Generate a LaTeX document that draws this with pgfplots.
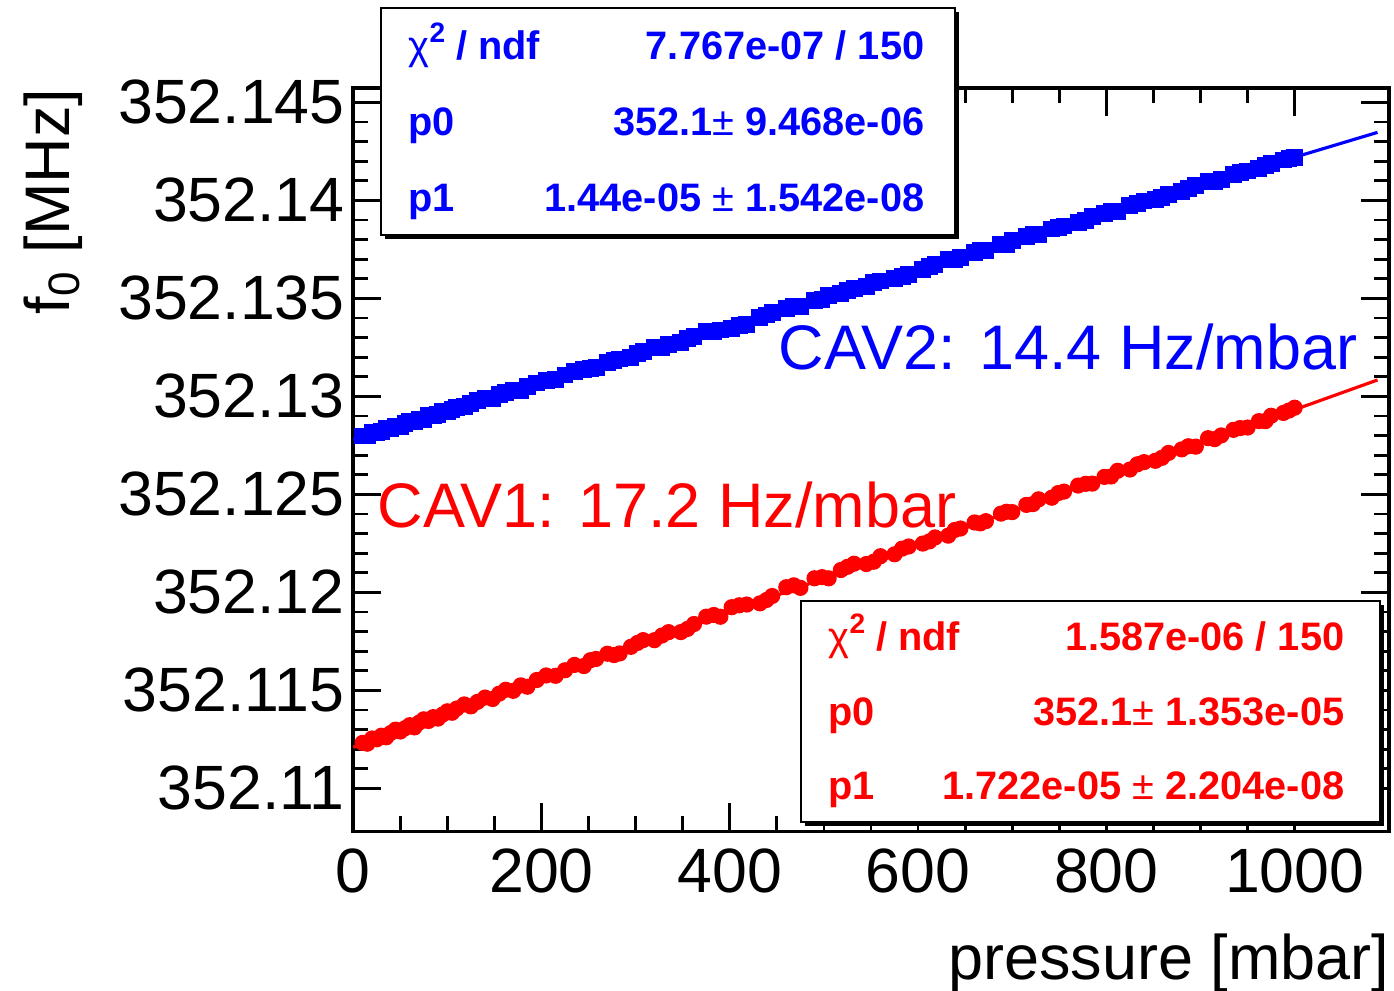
\documentclass[border=0pt]{standalone}
\usepackage{pgfplots}
\pgfplotsset{compat=1.18}
\usepackage{pgfplotstable}
\usepackage{fontspec}
\setmainfont{Liberation Sans}

% resonance frequency f0 minus 352.1 MHz, in kHz (TeX cannot resolve 352.1xxxx directly)
% p = pressure [mbar], cav2 = blue series, cav1 = red series
\pgfplotstableread{
p     cav2    cav1
10    27.974  12.322
15    27.976  12.278
20    28.138  12.544
25    28.170  12.501
30    28.202  12.687
35    28.364  12.603
40    28.356  12.829
45    28.488  12.995
50    28.470  12.901
55    28.612  13.067
60    28.734  13.223
65    28.726  13.109
70    28.838  13.355
75    28.820  13.522
80    29.002  13.438
85    29.024  13.634
90    29.056  13.560
95    29.248  13.766
100   29.220  13.932
105   29.342  13.858
110   29.434  14.074
118   29.469  14.282
125   29.640  14.183
132   29.791  14.413
140   29.876  14.631
148   29.911  14.559
155   30.082  14.829
162   30.213  15.030
170   30.278  14.977
178   30.313  15.255
185   30.484  15.186
195   30.678  15.528
205   30.792  15.760
215   30.866  15.742
225   31.090  16.025
235   31.274  16.297
245   31.348  16.239
252   31.399  16.539
258   31.475  16.603
270   31.748  16.869
277   31.839  16.800
283   31.905  16.883
295   31.998  17.220
302   32.169  17.420
308   32.275  17.564
320   32.488  17.560
328   32.483  17.798
335   32.644  17.969
348   32.751  17.973
355   32.972  18.133
362   33.063  18.384
375   33.300  18.758
383   33.295  18.845
390   33.386  18.756
402   33.469  19.242
410   33.604  19.340
418   33.669  19.378
432   34.001  19.439
439   34.152  19.610
445   34.288  19.813
460   34.464  20.261
468   34.589  20.359
475   34.580  20.230
490   34.886  20.718
498   34.931  20.776
505   35.142  20.716
518   35.239  21.140
525   35.380  21.301
532   35.511  21.461
545   35.608  21.445
553   35.823  21.563
560   35.884  21.843
575   36.000  21.942
583   36.125  22.229
590   36.196  22.340
605   36.482  22.488
612   36.643  22.599
618   36.739  22.802
632   36.961  22.893
639   36.982  23.184
645   37.068  23.257
660   37.334  23.565
666   37.440  23.519
672   37.427  23.632
688   37.727  24.017
694   37.764  24.111
700   37.950  24.094
715   38.136  24.462
722   38.237  24.503
728   38.253  24.746
742   38.535  24.827
749   38.606  25.068
755   38.694  25.141
770   38.848  25.449
778   38.953  25.537
785   39.164  25.548
798   39.321  25.892
805   39.422  25.912
812   39.443  26.203
825   39.720  26.267
833   39.855  26.534
840   39.966  26.645
852   40.049  26.711
859   40.150  26.862
866   40.300  27.113
880   40.432  27.294
887   40.613  27.454
895   40.738  27.432
908   40.955  27.866
915   40.946  27.816
922   41.047  28.007
935   41.304  28.291
942   41.415  28.381
950   41.500  28.409
962   41.603  28.736
969   41.774  28.736
975   41.900  29.010
988   42.057  29.153
994   42.154  29.277
1000  42.180  29.420
}\freq

\begin{document}
\begin{tikzpicture}
\begin{axis}[
    scale only axis,
    width=10.35cm, height=7.43cm,
    xmin=0, xmax=1100,
    ymin=7.8, ymax=45.73,
    axis line style={line width=1.1pt},
    tick align=inside,
    tick pos=both,
    xtick={0,200,400,600,800,1000},
    xticklabels={0,200,400,600,800,1000},
    minor x tick num=3,
    ytick={10,15,20,25,30,35,40,45},
    yticklabels={352.11,352.115,352.12,352.125,352.13,352.135,352.14,352.145},
    minor y tick num=4,
    major tick length=0.28cm,
    minor tick length=0.15cm,
    every tick/.style={black, line width=0.8pt},
    tick label style={font=\fontsize{17.8}{20}\selectfont},
    xticklabel style={inner sep=0pt, anchor=north, yshift=-0.17cm},
    yticklabel style={inner sep=0pt, anchor=east, xshift=-0.08cm},
]
\addplot[only marks, mark=square*, mark size=2.2pt, blue, mark options={draw=blue, fill=blue}]
    table[x=p, y=cav2] {\freq};
\addplot[only marks, mark=*, mark size=2.1pt, red, mark options={draw=red, fill=red}]
    table[x=p, y=cav1] {\freq};
% linear fits
\addplot[blue, line width=0.9pt, no marks] coordinates {(0,27.8) (1088,43.467)};
\addplot[red, line width=0.9pt, no marks] coordinates {(0,12.1) (1088,30.835)};
\end{axis}

\pgfresetboundingbox
% annotation layer in pixel units of the 1394x991 reference, origin top left
\begin{scope}[shift={(current axis.south west)}, xshift=-3.53cm, yshift=8.31cm, x=0.01cm, y=-0.01cm]
\path[use as bounding box] (0,0) rectangle (1394,991);

% fit statistics, CAV2
\fill[black] (385,12) rectangle (959,239);
\draw[fill=white, line width=0.7pt] (381,8) rectangle (955,235);
\begin{scope}[every node/.style={inner sep=0pt, text=blue, font=\fontsize{11.3}{14}\bfseries\selectfont}]
\node[anchor=base west] at (408,60) {{\mdseries χ}\raisebox{0.45em}{\fontsize{8}{8}\selectfont 2} / ndf};
\node[anchor=base east] at (925,60) {7.767e-07 / 150};
\node[anchor=base west] at (408,136) {p0};
\node[anchor=base east] at (925,136) {352.1{\mdseries ±} 9.468e-06};
\node[anchor=base west] at (408,212) {p1};
\node[anchor=base east] at (925,212) {1.44e-05 {\mdseries ±} 1.542e-08};
\end{scope}

% fit statistics, CAV1
\fill[black] (805,605) rectangle (1384,826);
\draw[fill=white, line width=0.7pt] (801,601) rectangle (1380,822);
\begin{scope}[every node/.style={inner sep=0pt, text=red, font=\fontsize{11.3}{14}\bfseries\selectfont}]
\node[anchor=base west] at (828,651) {{\mdseries χ}\raisebox{0.45em}{\fontsize{8}{8}\selectfont 2} / ndf};
\node[anchor=base east] at (1345,651) {1.587e-06 / 150};
\node[anchor=base west] at (828,726) {p0};
\node[anchor=base east] at (1345,726) {352.1{\mdseries ±} 1.353e-05};
\node[anchor=base west] at (828,800) {p1};
\node[anchor=base east] at (1345,800) {1.722e-05 {\mdseries ±} 2.204e-08};
\end{scope}

\node[anchor=base east, inner sep=0pt, text=blue, font=\fontsize{17.9}{20}\selectfont] at (1358,370) {CAV2: 14.4 Hz/mbar};
\node[anchor=base west, inner sep=0pt, text=red, font=\fontsize{17.9}{20}\selectfont] at (377,528) {CAV1: 17.2 Hz/mbar};

% axis titles
\node[anchor=base east, inner sep=0pt, font=\fontsize{17.9}{20}\selectfont] at (1390,979) {pressure [mbar]};
\node[rotate=90, anchor=base east, inner sep=0pt, font=\fontsize{17.9}{20}\selectfont] at (70,88) {f\textsubscript{0} [MHz]};
\end{scope}
\end{tikzpicture}
\end{document}
